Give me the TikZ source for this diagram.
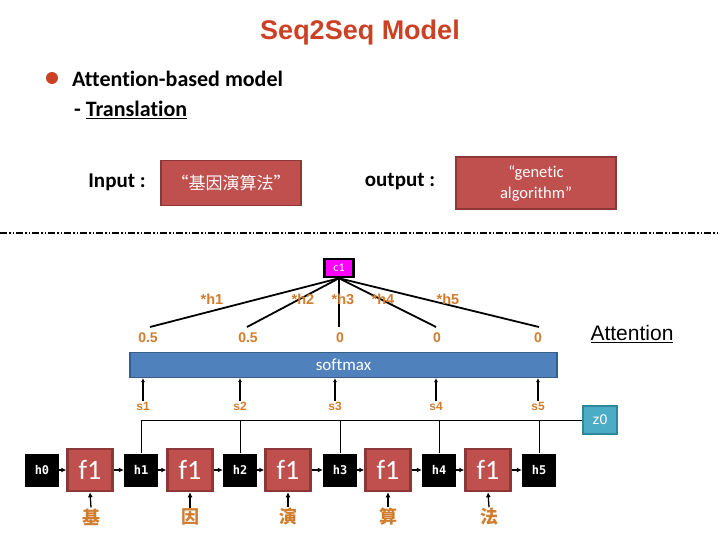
\documentclass[tikz,border=0pt]{standalone}
\usepackage{fontspec}
\setmainfont{Carlito}[Ligatures=NoCommon]
\newfontfamily\arialf{Liberation Sans}
\newfontfamily\cjk{Noto Sans CJK SC}
\newfontfamily\hmono{DejaVu Sans Mono}
\usetikzlibrary{arrows.meta}
\definecolor{fred}{RGB}{192,80,77}
\definecolor{fredd}{RGB}{140,56,54}
\definecolor{ocol}{RGB}{210,125,45}
\definecolor{titlec}{RGB}{204,65,37}
\definecolor{smfill}{RGB}{79,129,189}
\definecolor{smdraw}{RGB}{56,93,138}
\definecolor{zfill}{RGB}{75,172,198}
\definecolor{zdraw}{RGB}{49,133,156}
\definecolor{mag}{RGB}{255,0,255}
\tikzset{
  hbox/.style={fill=black,text=white,minimum width=34pt,minimum height=33pt,inner sep=0pt,font=\hmono\bfseries\fontsize{12}{12}\selectfont},
  fbox/.style={fill=fred,draw=fredd,line width=2.5pt,minimum width=45pt,minimum height=42pt,inner sep=0pt,text=white,font=\fontsize{28}{28}\selectfont},
  olab/.style={text=ocol,font=\arialf\bfseries\fontsize{12}{12}\selectfont,inner sep=1pt},
  wlab/.style={text=ocol,font=\arialf\bfseries\fontsize{14.5}{14.5}\selectfont,inner sep=1pt},
  nlab/.style={text=ocol,font=\arialf\bfseries\fontsize{14}{14}\selectfont,inner sep=1pt},
  chlab/.style={text=ocol,font=\cjk\bfseries\fontsize{18}{18}\selectfont,inner sep=1pt},
  redbox/.style={fill=fred,draw=fredd,line width=1.8pt,text=white,inner sep=0pt,align=center},
  arr/.style={-{Latex[length=5pt,width=5pt]},line width=1.3pt},
  thin/.style={line width=0.9pt},
  att/.style={line width=1.8pt}
}
\begin{document}
\begin{tikzpicture}[x=1pt,y=-1pt]
\useasboundingbox[fill=white] (0,0) rectangle (720,540);
% title
\node[text=titlec,font=\arialf\bfseries\fontsize{27}{27}\selectfont] (title) at (360,33) {Seq2Seq Model};
\fill[titlec] (52,78) circle (6);
\node[anchor=west,font=\bfseries\fontsize{22}{22}\selectfont,inner sep=0pt] (att1) at (72,79) {Attention-based model};
\node[anchor=west,font=\bfseries\fontsize{22}{22}\selectfont,inner sep=0pt] (tr) at (74,110) {- \underline{Translation}};
% input/output
\node[font=\bfseries\fontsize{21}{21}\selectfont] (inl) at (117,182) {Input :};
\node[redbox,minimum width=140pt,minimum height=45pt,font=\cjk\fontsize{17}{17}\selectfont] (inb) at (231,183) {“基因演算法”};
\node[font=\bfseries\fontsize{21}{21}\selectfont] (outl) at (400,182) {output :};
\node[redbox,minimum width=160pt,minimum height=52pt,font=\fontsize{16.5}{21}\selectfont] (outb) at (536,183) {“genetic\\algorithm”};
% separator
\coordinate (dl) at (0,233);
\coordinate (dr) at (720,233);
\draw[line width=1.2pt,dash pattern=on 7pt off 2pt on 1.5pt off 2pt on 1.5pt off 2pt] (dl) -- (dr);
% context
\node[fill=mag,draw=black,line width=2.5pt,minimum width=29pt,minimum height=18pt,inner sep=0pt,text=white,font=\fontsize{12}{12}\selectfont] (c1) at (339,268) {c1};
\node[nlab] (a1) at (148,338) {0.5};
\node[nlab] (a2) at (248,338) {0.5};
\node[nlab] (a3) at (340,338) {0};
\node[nlab] (a4) at (437,338) {0};
\node[nlab] (a5) at (538,338) {0};
\coordinate (p1) at (150,327);
\coordinate (p2) at (247,327);
\coordinate (p3) at (339,327);
\coordinate (p4) at (436,327);
\coordinate (p5) at (539,327);
\foreach \i in {1,...,5} \draw[att] (c1.south) -- (p\i);
\node[wlab] (w1) at (212,299) {*h1};
\node[wlab] (w2) at (303,299) {*h2};
\node[wlab] (w3) at (343,299) {*h3};
\node[wlab] (w4) at (383,299) {*h4};
\node[wlab] (w5) at (448,299) {*h5};
\node[font=\arialf\fontsize{21}{21}\selectfont,inner sep=0pt] (attn) at (632,334) {\underline{Attention}};
% softmax
\node[fill=smfill,draw=smdraw,line width=1.2pt,minimum width=427pt,minimum height=25pt,inner sep=0pt,text=white,font=\fontsize{17}{17}\selectfont] (sm) at (343.5,365) {softmax};
% s labels
\node[olab] (s1) at (143,406) {s1};
\node[olab] (s2) at (240,406) {s2};
\node[olab] (s3) at (335,406) {s3};
\node[olab] (s4) at (436,406) {s4};
\node[olab] (s5) at (538,406) {s5};
\foreach \i in {1,...,5} \draw[arr,-{Latex[length=4pt,width=4pt]}] (s\i.north) -- (s\i.north |- sm.south);
% z0
\node[fill=zfill,draw=zdraw,line width=2pt,minimum width=34pt,minimum height=28pt,inner sep=0pt,text=white,font=\arialf\fontsize{14}{14}\selectfont] (z0) at (600,420) {z0};
% chain
\node[hbox] (h0) at (42,470) {h0};
\node[fbox] (f1) at (90,470) {f1};
\node[hbox] (h1) at (141,470) {h1};
\node[fbox] (f2) at (190,470) {f1};
\node[hbox] (h2) at (240,470) {h2};
\node[fbox] (f3) at (288,470) {f1};
\node[hbox] (h3) at (340,470) {h3};
\node[fbox] (f4) at (388,470) {f1};
\node[hbox] (h4) at (439,470) {h4};
\node[fbox] (f5) at (488,470) {f1};
\node[hbox] (h5) at (539,470) {h5};
\draw[arr] (h0) -- (f1);
\draw[arr] (f1) -- (h1);
\draw[arr] (h1) -- (f2);
\draw[arr] (f2) -- (h2);
\draw[arr] (h2) -- (f3);
\draw[arr] (f3) -- (h3);
\draw[arr] (h3) -- (f4);
\draw[arr] (f4) -- (h4);
\draw[arr] (h4) -- (f5);
\draw[arr] (f5) -- (h5);
% chars
\node[chlab] (k1) at (91,517) {基};
\node[chlab] (k2) at (190,517) {因};
\node[chlab] (k3) at (288,517) {演};
\node[chlab] (k4) at (388,517) {算};
\node[chlab] (k5) at (489,517) {法};
\foreach \i in {1,...,5} \draw[arr] (k\i.north) -- (f\i.south);
% bus
\coordinate (bus) at (141,421);
\draw[thin] (h1.north) |- (z0.west);
\foreach \i in {2,...,5} \draw[thin] (h\i.north) -- (h\i.north |- bus);
\end{tikzpicture}
\end{document}
